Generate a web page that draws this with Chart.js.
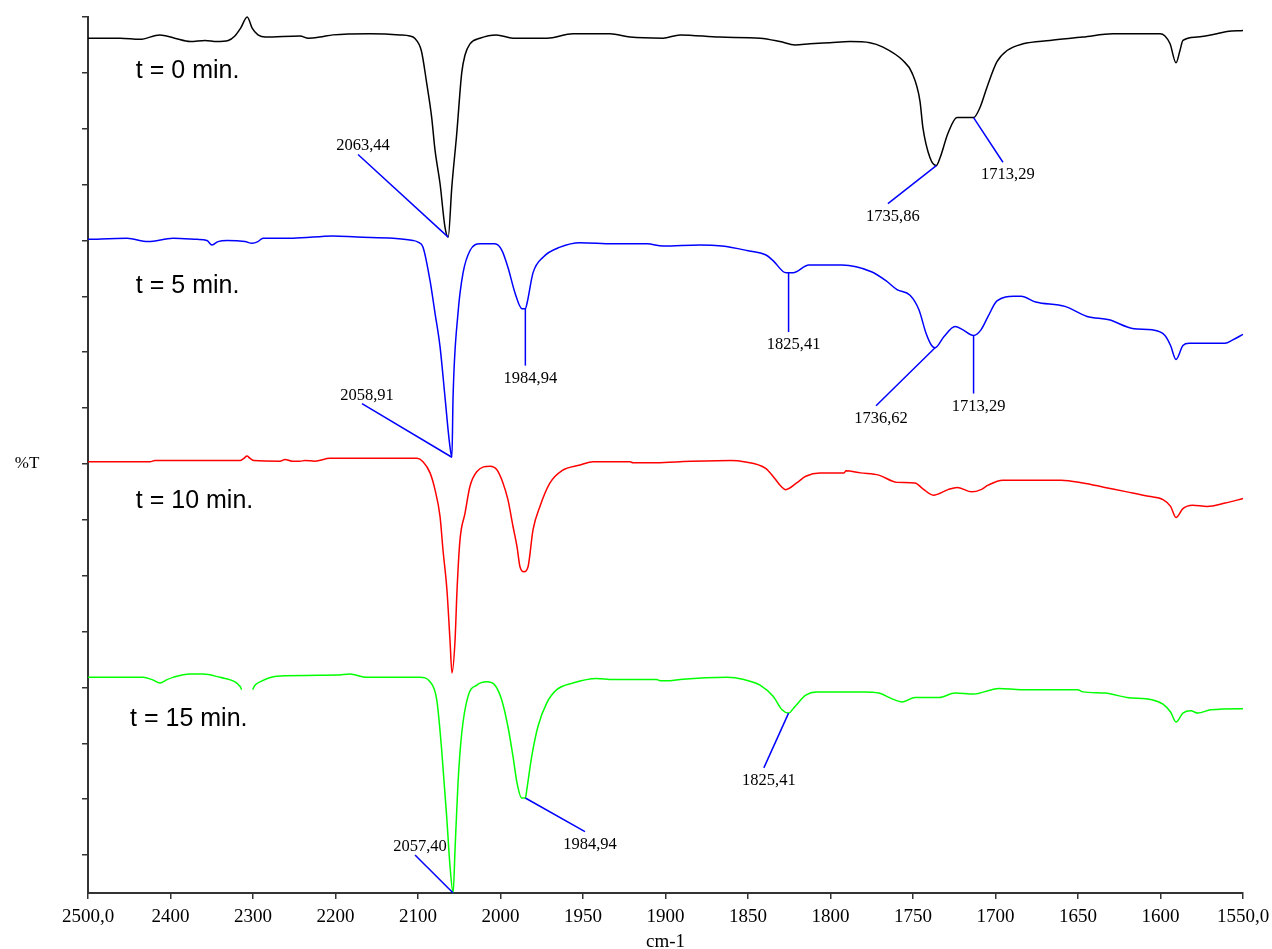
<!DOCTYPE html>
<html>
<head>
<meta charset="utf-8">
<script src="https://cdn.jsdelivr.net/npm/chart.js@4.4.1/dist/chart.umd.min.js"></script>
<style>
  html, body { margin: 0; padding: 0; background: #fff; }
</style>
</head>
<body>
<canvas id="irChart" width="1272" height="949"></canvas>
<script>
// x axis: 2500-2000 cm-1 at 100 per division, 2000-1550 at 50 per division
const xTickLabels = ['2500,0', '2400', '2300', '2200', '2100', '2000', '1950', '1900',
  '1850', '1800', '1750', '1700', '1650', '1600', '1550,0'];

function toAxis(w) {
  return w >= 2000 ? (2500 - w) / 100 : 5 + (2000 - w) / 50;
}

// t = 0 min.
const wn0 = [2500, 2461, 2437, 2413, 2395, 2376, 2358, 2344, 2330, 2322, 2315, 2307, 2301, 2294, 2285, 2243, 2233, 2219, 2203, 2158,
  2122, 2110, 2104, 2096, 2089.5, 2083.4, 2079.4, 2073.3, 2067.3, 2063.4, 2059, 2053, 2047, 2043, 2037, 2025, 2005, 1992.4, 1971.8, 1956.1,
  1933.6, 1921.5, 1901.5, 1891.2, 1867, 1842.7, 1830.6, 1821.5, 1812.4, 1800.3, 1788.2, 1776.1, 1768.2, 1756.1, 1750.6, 1745.8, 1744, 1739.7, 1735.9, 1733.6,
  1728.8, 1723.3, 1718.5, 1713.3, 1709.4, 1705.2, 1699.1, 1693, 1683.3, 1667, 1647, 1628.8, 1600.3, 1597.3, 1594.2, 1590.6, 1588.2, 1586.4, 1577.9, 1565.8,
  1559.7, 1550];
const t0 = [98.1, 98.1, 98.0, 98.4, 98.1, 97.8, 97.9, 97.8, 97.9, 98.3, 99.0, 100.0, 99.0, 98.4, 98.2, 98.3, 98.1, 98.2, 98.4, 98.5,
  98.4, 98.3, 98.1, 97.0, 94.1, 91.0, 88.1, 85.1, 81.2, 80.3, 84.8, 89.6, 95.0, 96.6, 97.6, 98.1, 98.4, 98.1, 98.1, 98.5,
  98.5, 98.2, 98.1, 98.4, 98.2, 98.1, 97.8, 97.5, 97.6, 97.7, 97.8, 97.7, 97.3, 96.1, 95.0, 92.5, 90.1, 87.4, 86.7, 87.4,
  89.6, 91.0, 91.0, 91.0, 91.9, 93.7, 96.0, 97.0, 97.6, 97.9, 98.2, 98.5, 98.5, 98.3, 97.6, 95.9, 97.0, 97.9, 98.2, 98.5,
  98.7, 98.8];

// t = 5 min.
const wn5 = [2500, 2452.7, 2427.3, 2397, 2367.9, 2355.8, 2349.7, 2342.4, 2331.5, 2309.7, 2301.2, 2294, 2287.9, 2251.5, 2203, 2174, 2130.3, 2106, 2100, 2093.9,
  2085.4, 2079.4, 2073.3, 2067.3, 2062, 2058.9, 2057.5, 2051.5, 2045.4, 2036.9, 2024.8, 2006.7, 1999.1, 1995.5, 1991.2, 1987, 1984.9, 1983.9, 1980.3, 1974.2,
  1963.9, 1951.8, 1931.8, 1911.2, 1901.5, 1879.1, 1865.7, 1850.6, 1839.1, 1834.8, 1826.9, 1825.4, 1822.7, 1813.1, 1793.1, 1775.2, 1766.4, 1759.7, 1751.8, 1746.4,
  1742.1, 1738.7, 1736.6, 1731.2, 1724.5, 1719.7, 1713.3, 1708.8, 1704.5, 1699.1, 1688.8, 1684.5, 1675.7, 1657.9, 1644.5, 1631.2, 1616.1, 1605.2, 1597.3, 1593.9,
  1590.6, 1586.4, 1582.7, 1560.9, 1556.2, 1550];
const t5 = [80.1, 80.2, 79.9, 80.2, 80.1, 80.0, 79.6, 79.9, 80.0, 79.9, 79.75, 79.9, 80.2, 80.2, 80.4, 80.3, 80.2, 80.0, 79.85, 79.4,
  76.4, 73.5, 70.5, 66.0, 62.0, 60.6, 66.0, 73.5, 77.1, 79.1, 79.7, 79.7, 79.1, 77.6, 75.3, 73.9, 73.9, 74.4, 77.1, 78.5,
  79.4, 79.8, 79.7, 79.7, 79.5, 79.6, 79.5, 79.1, 78.7, 78.2, 77.1, 77.1, 77.1, 77.8, 77.8, 77.2, 76.4, 75.6, 75.1, 73.8,
  71.7, 70.6, 70.4, 71.4, 72.3, 72.0, 71.5, 72.0, 73.2, 74.6, 75.0, 75.0, 74.5, 74.1, 73.2, 72.9, 72.1, 72.0, 71.5, 70.6,
  69.35, 70.6, 70.8, 70.8, 71.1, 71.6];

// t = 10 min.
const wn10 = [2500, 2424.8, 2418.8, 2315.8, 2311, 2307.3, 2303.6, 2298.8, 2267.3, 2261.2, 2252.7, 2243, 2237, 2224.9, 2206.7, 2101.2, 2093.9, 2085.4, 2079.4, 2073.3,
  2069.7, 2064.9, 2061.2, 2058.8, 2055.1, 2052.7, 2049.1, 2043, 2037, 2028.8, 2012.7, 2004.6, 1998.5, 1995.5, 1992.4, 1990, 1988.2, 1985.8, 1983.3, 1980.3,
  1976.1, 1970, 1962.7, 1951.8, 1943.9, 1921.5, 1919.7, 1907.6, 1891.2, 1860.3, 1852.5, 1839.3, 1833.8, 1830, 1827.2, 1820.5, 1815, 1806.4, 1791.8, 1790.6,
  1781.8, 1770.7, 1759.7, 1748.8, 1744.2, 1737.6, 1728.8, 1723.3, 1714.4, 1708.8, 1704.5, 1695.6, 1660.3, 1647, 1633.7, 1620.3, 1607.2, 1598.5, 1593.9, 1590.6,
  1586.4, 1580.6, 1571.8, 1560.9, 1550];
const t10 = [60.2, 60.2, 60.3, 60.3, 60.5, 60.7, 60.5, 60.3, 60.25, 60.4, 60.25, 60.25, 60.3, 60.25, 60.5, 60.5, 60.2, 59.2, 57.7, 55.3,
  52.3, 48.7, 44.2, 41.3, 44.2, 48.7, 53.2, 55.6, 58.0, 59.3, 59.8, 59.5, 58.3, 56.8, 54.4, 52.6, 50.8, 50.35, 50.8, 54.1,
  56.2, 58.3, 59.4, 59.9, 60.2, 60.2, 60.1, 60.1, 60.2, 60.3, 60.2, 59.6, 58.7, 58.0, 57.7, 58.3, 58.9, 59.2, 59.2, 59.4,
  59.2, 59.0, 58.35, 58.3, 57.8, 57.2, 57.7, 57.9, 57.5, 57.7, 58.1, 58.55, 58.55, 58.3, 57.9, 57.5, 57.1, 56.8, 56.2, 55.2,
  56.0, 56.3, 56.2, 56.5, 56.9];

// t = 15 min. (null = gap in the recorded trace)
const wn15 = [2500, 2433.3, 2422.4, 2412.7, 2404.2, 2397, 2376.4, 2360.6, 2340, 2321.8, 2315.8, 2313.7, 2308, 2300.4, 2297.6, 2291.5, 2271.3, 2198.5, 2182.4, 2162.2,
  2097.6, 2085.4, 2077.3, 2071.3, 2065.2, 2061.2, 2057.4, 2055.1, 2051.5, 2047, 2039.4, 2028.8, 2016.7, 2006.7, 1999.3, 1995.5, 1992.4, 1990, 1987.2, 1984.9,
  1984.1, 1981.1, 1977.3, 1972, 1965.9, 1956.1, 1941.7, 1931.8, 1905.3, 1903.3, 1897.3, 1891.2, 1862.7, 1852.5, 1842.7, 1834.8, 1829.4, 1825.4, 1821.5, 1815,
  1808.4, 1779.7, 1770.7, 1763, 1756.4, 1748.8, 1734.2, 1724.5, 1713.3, 1702.2, 1697.9, 1684.5, 1650.2, 1647, 1633.7, 1620.3, 1605.2, 1598.5, 1593.9, 1590.6,
  1586.4, 1581.7, 1577.3, 1569.6, 1551.9, 1550];
const t15 = [40.9, 40.9, 40.7, 40.4, 40.7, 40.9, 41.2, 41.2, 40.9, 40.5, 40.1, 39.8, null, 39.8, 40.2, 40.5, 41.0, 41.1, 41.2, 40.9,
  40.9, 40.5, 38.9, 34.4, 28.4, 24.0, 21.6, 25.5, 31.45, 35.9, 39.2, 40.2, 40.5, 40.2, 38.9, 36.5, 33.8, 31.45, 30.1, 30.1,
  30.8, 33.8, 36.5, 38.6, 39.8, 40.4, 40.8, 40.7, 40.7, 40.6, 40.6, 40.7, 40.9, 40.7, 40.2, 39.2, 38.0, 37.7, 38.3, 39.3,
  39.6, 39.6, 39.5, 39.0, 38.7, 39.1, 39.1, 39.5, 39.4, 39.8, 39.9, 39.8, 39.8, 39.6, 39.5, 39.1, 38.9, 38.5, 37.8, 36.9,
  37.7, 37.9, 37.7, 38.0, 38.1, 38.1];

// peak labels: text, peak wavenumber, peak %T, label wavenumber, label %T, side
const peakLabels = [
  ['2063,44', 2063.44, 80.3, 2172.7, 87.7, 'above'],
  ['1735,86', 1735.86, 86.7, 1765.2, 83.3, 'below'],
  ['1713,29', 1713.29, 91.0, 1695.5, 87.0, 'below'],
  ['2058,91', 2058.91, 60.6, 2167.9, 65.4, 'above'],
  ['1984,94', 1984.94, 73.9, 1984.94, 68.8, 'below'],
  ['1825,41', 1825.41, 77.1, 1825.41, 71.8, 'below'],
  ['1736,62', 1736.62, 70.4, 1772.4, 65.2, 'below'],
  ['1713,29', 1713.29, 71.5, 1713.29, 66.3, 'below'],
  ['2057,40', 2057.4, 21.6, 2103.6, 25.0, 'above'],
  ['1984,94', 1984.94, 30.1, 1948.8, 27.1, 'below'],
  ['1825,41', 1825.41, 37.7, 1840.4, 32.8, 'below']
];

const seriesNames = ['t = 0 min.', 't = 5 min.', 't = 10 min.', 't = 15 min.'];
const seriesColors = ['#000000', '#0000ff', '#ff0000', '#00ff00'];
// where each series name is written: wavenumber, %T (baseline)
const nameWn = [2442, 2442, 2442, 2449];
const nameY = [94.5, 75.3, 56.1, 36.55];

const series = [[wn0, t0], [wn5, t5], [wn10, t10], [wn15, t15]];

const overlay = {
  id: 'overlay',
  afterDatasetsDraw(chart) {
    const { ctx, scales: { x, y } } = chart;
    ctx.save();
    ctx.strokeStyle = '#0000ff';
    ctx.lineWidth = 1.5;
    ctx.fillStyle = '#000';
    ctx.font = '16.5px "Liberation Serif"';
    ctx.textAlign = 'center';
    ctx.textBaseline = 'alphabetic';
    peakLabels.forEach(([text, wn, v, endWn, endV, side]) => {
      const x0 = x.getPixelForValue(toAxis(wn));
      const y0 = y.getPixelForValue(v);
      const x1 = x.getPixelForValue(toAxis(endWn));
      const y1 = y.getPixelForValue(endV);
      ctx.beginPath();
      ctx.moveTo(x0, y0);
      ctx.lineTo(x1, y1);
      ctx.stroke();
      ctx.fillText(text, x1 + 5, side === 'above' ? y1 - 4 : y1 + 17);
    });

    ctx.font = '25px "Liberation Sans"';
    ctx.textAlign = 'left';
    seriesNames.forEach((name, i) => {
      ctx.fillText(name, x.getPixelForValue(toAxis(nameWn[i])), y.getPixelForValue(nameY[i]));
    });

    ctx.font = '17px "Liberation Serif"';
    ctx.textAlign = 'center';
    ctx.textBaseline = 'middle';
    ctx.fillText('%T', x.left - 61, y.getPixelForValue(60));
    ctx.restore();
  }
};

new Chart(document.getElementById('irChart'), {
  type: 'line',
  data: {
    datasets: series.map(([w, v], i) => ({
      label: seriesNames[i],
      data: w.map((wn, j) => ({ x: toAxis(wn), y: v[j] })),
      borderColor: seriesColors[i],
      borderWidth: 1.5,
      pointRadius: 0,
      cubicInterpolationMode: 'monotone',
      fill: false,
      clip: false
    }))
  },
  options: {
    responsive: false,
    animation: false,
    events: [],
    layout: { padding: { top: 17, right: 29, left: 0, bottom: 0 } },
    plugins: {
      legend: { display: false },
      tooltip: { enabled: false }
    },
    scales: {
      x: {
        type: 'linear',
        min: 0,
        max: 14,
        afterFit: s => { s.height = 56; s.paddingLeft = 0; s.paddingRight = 0; },
        border: { color: '#333', width: 2 },
        grid: { drawOnChartArea: false, tickLength: 6, color: '#333', lineWidth: 1.5 },
        ticks: {
          stepSize: 1,
          autoSkip: false,
          maxRotation: 0,
          padding: 7,
          color: '#000',
          font: { family: 'Liberation Serif', size: 19 },
          callback: v => xTickLabels[v]
        },
        title: {
          display: true,
          text: 'cm-1',
          color: '#000',
          padding: 0,
          font: { family: 'Liberation Serif', size: 19, lineHeight: 0.7 }
        }
      },
      y: {
        type: 'linear',
        min: 21.6,
        max: 100,
        afterFit: s => { s.width = 88; },
        border: { color: '#333', width: 2 },
        grid: { drawOnChartArea: false, tickLength: 6, color: '#333', lineWidth: 1.5 },
        ticks: { display: false, stepSize: 5, includeBounds: false }
      }
    }
  },
  plugins: [overlay]
});
</script>
</body>
</html>
